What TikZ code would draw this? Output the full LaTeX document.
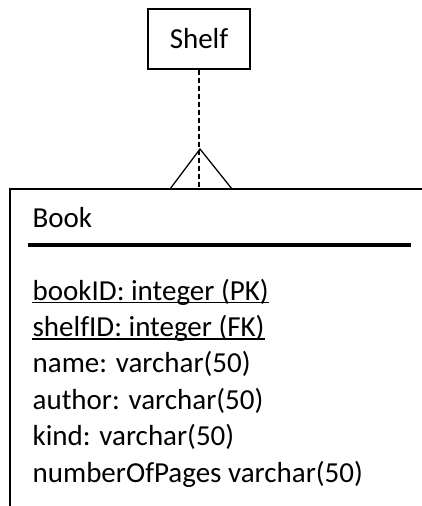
\documentclass[tikz,border=0pt]{standalone}
\usepackage{fontspec}
\setmainfont{Carlito}
\begin{document}
\begin{tikzpicture}[x=1pt,y=-1pt,
  line width=1.3pt,
  txt/.style={inner sep=0pt,anchor=base west,font=\fontsize{29}{35}\selectfont},
  entbox/.style={draw,line width=1.3pt,minimum width=102pt,minimum height=60pt,inner sep=0pt,font=\fontsize{29}{35}\selectfont},
  uline/.style={line width=1.3pt},
  dashline/.style={dash pattern=on 5pt off 3pt,line width=1.3pt}]
\useasboundingbox (0,0) rectangle (422,506);
\node[entbox] (shelf) at (199,39) {Shelf};
% Book frame
\coordinate (bookTL) at (10,189);
\coordinate (bookTR) at (422,189);
\coordinate (bookBL) at (10,506);
\draw (bookTR) -- (bookTL) -- (bookBL);
% crow's foot / triangle
\coordinate (apex) at (200,149);
\coordinate (tl) at (170,189);
\coordinate (tr) at (232,189);
\coordinate (join) at (199,189);
\draw (tl) -- (apex) -- (tr);
\draw[dashline] (shelf.south) -- (join);
% title
\node[txt] (book) at (32,227) {Book};
\coordinate (hl) at (28,245);
\coordinate (hr) at (411,245);
\draw[line width=4pt] (hl) -- (hr);
% attributes
\node[txt] (a1) at (32,300) {bookID: integer (PK)};
\node[txt] (a2) at (32,336.4) {shelfID: integer (FK)};
\node[txt] (a3) at (32,372.8) {name: varchar(50)};
\node[txt] (a4) at (32,409.2) {author: varchar(50)};
\node[txt] (a5) at (32,445.6) {kind: varchar(50)};
\node[txt] (a6) at (32,482) {numberOfPages varchar(50)};
\draw[uline] ([yshift=-2.5pt]a1.base west) -- ([yshift=-2.5pt]a1.base east);
\draw[uline] ([yshift=-2.5pt]a2.base west) -- ([yshift=-2.5pt]a2.base east);
\end{tikzpicture}
\end{document}
